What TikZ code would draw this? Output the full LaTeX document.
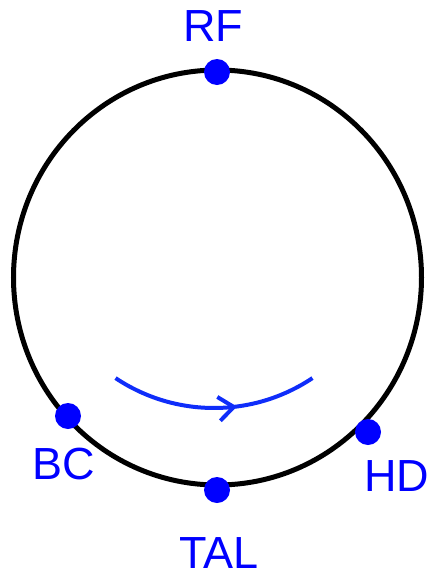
\documentclass[tikz,border=0pt]{standalone}
\usepackage{fontspec}
\setmainfont{Liberation Sans}
\usetikzlibrary{arrows.meta,decorations.markings}
\definecolor{dotblue}{RGB}{0,0,255}
\definecolor{arcblue}{RGB}{15,45,250}
\begin{document}
\begin{tikzpicture}[x=1pt,y=1pt,
  dot/.style={circle,fill=dotblue,inner sep=0pt,minimum size=26pt},
  lbl/.style={text=dotblue,font=\fontsize{45}{45}\selectfont,inner sep=0pt},
  ring/.style={line width=5pt,black},
  flow/.style={line width=4pt,arcblue,
    postaction={decorate},
    decoration={markings,mark=at position 0.61 with {\arrow[line width=4pt,line cap=round]{Straight Barb[length=15pt,width=24pt]}}}}]
\useasboundingbox (0,0) rectangle (432,-576);
\coordinate (c) at (217.5,-277.5);
\draw[ring] (c) ellipse [x radius=204, y radius=207.5];
\node[dot] (rf) at (217,-72) {};
\node[dot] (bc) at (68,-416) {};
\node[dot] (hd) at (368,-432) {};
\node[dot] (tal) at (217,-490) {};
\node[lbl] (rfl) at (213.5,-26.5) {RF};
\node[lbl] (bcl) at (64,-464.5) {BC};
\node[lbl] (hdl) at (396.5,-476) {HD};
\node[lbl] (tall) at (219,-553) {TAL};
\coordinate (ac) at (214,-231);
\draw[flow] ([shift={(236.2:177)}]ac) arc [start angle=236.2, end angle=303.8, radius=177];
\end{tikzpicture}
\end{document}
